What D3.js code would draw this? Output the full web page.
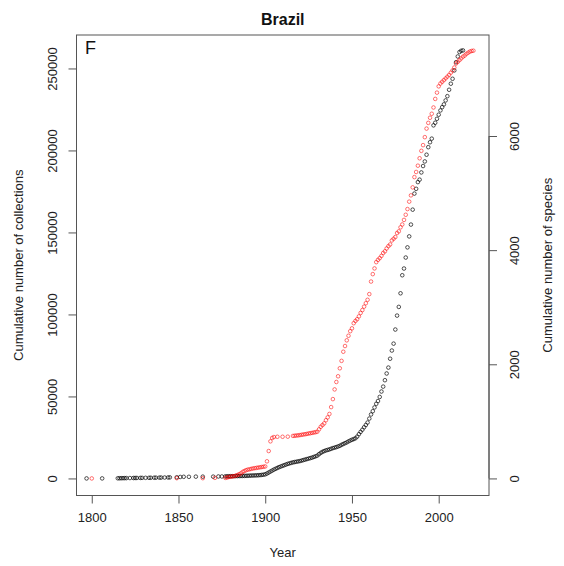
<!DOCTYPE html>
<html>
<head>
<meta charset="utf-8">
<script src="https://cdn.jsdelivr.net/npm/d3@7"></script>
<style>
  html, body { margin: 0; padding: 0; background: #fff; }
  svg { display: block; font-family: "Liberation Sans", Arial, sans-serif; }
</style>
</head>
<body>
<svg id="chart" width="564" height="566"></svg>
<script>
// Cumulative number of collections (left axis), by year
const collectionYears = [
  1797, 1806,
  1815, 1816, 1817, 1818, 1819, 1820, 1822, 1824, 1825, 1826, 1828, 1829, 1831, 1833,
  1834, 1836, 1837, 1839, 1840, 1842, 1844, 1845, 1849, 1851, 1853, 1856, 1860, 1864,
  1870, 1873, 1875, 1877, 1878, 1879, 1880, 1881, 1882, 1883, 1884, 1885, 1886, 1887,
  1888, 1889, 1890, 1891, 1892, 1893, 1894, 1895, 1896, 1897, 1898, 1899,
  1900, 1901, 1902, 1903, 1904, 1905, 1906, 1907, 1908, 1909, 1910, 1911, 1912, 1913,
  1914, 1915, 1916, 1917, 1918, 1919, 1920, 1921, 1922, 1923, 1924, 1925, 1926, 1927,
  1928, 1929, 1930, 1931, 1932, 1933, 1934, 1935, 1936, 1937, 1938, 1939, 1940, 1941,
  1942, 1943, 1944, 1945, 1946, 1947, 1948, 1949, 1950, 1951, 1952, 1953, 1954, 1955,
  1956, 1957, 1958, 1959, 1960, 1961, 1962, 1963, 1964, 1965, 1966, 1967, 1968, 1969,
  1970, 1971, 1972, 1973, 1974, 1975, 1976, 1977, 1978, 1979, 1980, 1981, 1982, 1983,
  1984, 1985, 1986, 1987, 1988, 1989, 1990, 1991, 1992, 1993, 1994, 1995, 1996, 1997,
  1998, 1999, 2000, 2001, 2002, 2003, 2004, 2005, 2006, 2007, 2008, 2009, 2010, 2011,
  2012, 2013, 2014
];
const collectionCounts = [
  10, 20,
  100, 120, 150, 170, 190, 210, 240, 260, 280, 300, 330, 350, 380, 400,
  420, 450, 470, 500, 530, 560, 600, 650, 700, 900, 1000, 1000, 1100, 1100,
  1100, 1200, 1200, 1250, 1300, 1320, 1350, 1380, 1400, 1420, 1450, 1480, 1500, 1530,
  1560, 1600, 1650, 1700, 1750, 1800, 1850, 1900, 1950, 2050, 2150, 2300,
  2500, 3000, 3600, 4200, 4800, 5400, 5900, 6400, 6900, 7300, 7700, 8100, 8500, 8900,
  9200, 9500, 9800, 10000, 10200, 10400, 10600, 10900, 11200, 11500, 11800, 12100, 12400, 12700,
  13100, 13500, 13900, 14800, 15600, 16200, 16700, 17100, 17400, 17700, 18100, 18500, 18800, 19100,
  19500, 19900, 20500, 21000, 21500, 22000, 22600, 23100, 23600, 24000, 24500, 25500, 27000, 28400,
  29700, 31200, 32600, 34100, 36500, 39000, 41000, 43300, 45500, 47200, 49700, 53000, 56000, 59900,
  64000, 67600, 73000, 78000, 82200, 90800, 99300, 104600, 112900, 123900, 128000, 134700, 140900, 147600,
  154800, 163900, 173700, 176600, 180700, 182200, 186600, 190500, 193300, 197400, 202000, 205000, 207200, 215300,
  216900, 219300, 221800, 224400, 226400, 228100, 230500, 233100, 237000, 240700, 243700, 248800, 253800, 257300,
  260000, 260800, 261000
];

// Cumulative number of species (right axis), by year
const speciesYears = [
  1800, 1849, 1864, 1871,
  1877, 1878, 1879, 1880, 1881, 1882, 1883, 1884, 1885, 1886, 1887, 1888, 1889, 1890,
  1891, 1892, 1893, 1894, 1895, 1896, 1897, 1898, 1899, 1900, 1901, 1902, 1903, 1904,
  1905, 1907, 1910, 1913, 1916, 1917, 1918, 1919, 1920, 1921, 1922, 1923, 1924, 1925,
  1926, 1927, 1928, 1929, 1930, 1931, 1932, 1933, 1934, 1935, 1936, 1937, 1938, 1939,
  1940, 1941, 1942, 1943, 1944, 1945, 1946, 1947, 1948, 1949, 1950, 1951, 1952, 1953,
  1954, 1955, 1956, 1957, 1958, 1959, 1960, 1961, 1962, 1963, 1964, 1965, 1966, 1967,
  1968, 1969, 1970, 1971, 1972, 1973, 1974, 1975, 1976, 1977, 1978, 1979, 1980, 1981,
  1982, 1983, 1984, 1985, 1986, 1987, 1988, 1989, 1990, 1991, 1992, 1993, 1994, 1995,
  1996, 1997, 1998, 1999, 2000, 2001, 2002, 2003, 2004, 2005, 2006, 2007, 2008, 2009,
  2010, 2011, 2012, 2013, 2014, 2015, 2016, 2017, 2018, 2019, 2020
];
const speciesCounts = [
  0, 5, 5, 10,
  10, 15, 25, 30, 35, 40, 50, 60, 75, 90, 115, 130, 145, 155,
  160, 168, 175, 180, 185, 190, 195, 200, 205, 210, 300, 480, 650, 710,
  725, 730, 730, 732, 745, 748, 752, 755, 760, 765, 770, 775, 780, 788,
  792, 798, 805, 810, 818, 860, 905, 935, 965, 1020, 1070, 1130, 1250, 1390,
  1560, 1690, 1790, 1930, 2060, 2220, 2320, 2420, 2500, 2580, 2630, 2720, 2760, 2790,
  2840, 2900, 2950, 3010, 3070, 3130, 3230, 3450, 3580, 3680, 3790, 3830, 3860, 3900,
  3950, 3980, 4030, 4070, 4100, 4170, 4200, 4230, 4300, 4330, 4400, 4450, 4530, 4620,
  4720, 4850, 4960, 5100, 5280, 5370, 5480, 5610, 5740, 5840, 5980, 6130, 6230, 6320,
  6390, 6500, 6650, 6760, 6870, 6920, 6950, 6980, 7010, 7040, 7070, 7110, 7150, 7200,
  7270, 7300, 7330, 7360, 7390, 7410, 7440, 7460, 7480, 7490, 7495
];

const yearTicks = [1800, 1850, 1900, 1950, 2000];
const collectionTicks = [0, 50000, 100000, 150000, 200000, 250000];
const speciesTicks = [0, 2000, 4000, 6000];

const title = "Brazil";
const panelLetter = "F";
const xTitle = "Year";
const yLeftTitle = "Cumulative number of collections";
const yRightTitle = "Cumulative number of species";

// Plot region
const plot = { left: 76.5, right: 489, top: 35, bottom: 495.5 };

const svg = d3.select("#chart");

const x = d3.scaleLinear().domain([1791.2, 2029.0]).range([plot.left, plot.right]);
const yL = d3.scaleLinear().domain([-10400, 270400]).range([plot.bottom, plot.top]);
const yR = d3.scaleLinear().domain([-299, 7770]).range([plot.bottom, plot.top]);

const axisColor = "#555";
const textColor = "#222";
const tickLen = 8;
const font = "'Liberation Sans', Arial, sans-serif";

// Points: collections (black) then species (red), open circles
const collections = collectionYears.map((yr, i) => ({ yr, v: collectionCounts[i] }));
const species = speciesYears.map((yr, i) => ({ yr, v: speciesCounts[i] }));

svg.append("g").selectAll("circle").data(collections).join("circle")
  .attr("cx", d => x(d.yr))
  .attr("cy", d => yL(d.v))
  .attr("r", 1.8)
  .attr("fill", "none")
  .attr("stroke", "rgba(0,0,0,0.68)")
  .attr("stroke-width", 1);

svg.append("g").selectAll("circle").data(species).join("circle")
  .attr("cx", d => x(d.yr))
  .attr("cy", d => yR(d.v))
  .attr("r", 1.8)
  .attr("fill", "none")
  .attr("stroke", "rgba(255,0,0,0.55)")
  .attr("stroke-width", 1);

// Frame
svg.append("rect")
  .attr("x", plot.left).attr("y", plot.top)
  .attr("width", plot.right - plot.left).attr("height", plot.bottom - plot.top)
  .attr("fill", "none").attr("stroke", axisColor).attr("stroke-width", 1);

// Bottom axis
const xAxis = svg.append("g").attr("transform", `translate(0,${plot.bottom})`)
  .call(d3.axisBottom(x).tickValues(yearTicks).tickFormat(d3.format("d")).tickSize(tickLen).tickPadding(9));
xAxis.select(".domain").attr("d", `M${x(yearTicks[0])},0H${x(yearTicks[yearTicks.length - 1])}`).attr("stroke", axisColor);
xAxis.selectAll(".tick line").attr("stroke", axisColor);
xAxis.selectAll(".tick text").attr("fill", textColor).style("font-size", "13px").style("font-family", font);

// Left axis, labels parallel to the axis
const yAxisL = svg.append("g").attr("transform", `translate(${plot.left},0)`)
  .call(d3.axisLeft(yL).tickValues(collectionTicks).tickFormat(d3.format("d")).tickSize(tickLen));
yAxisL.select(".domain").attr("d", `M0,${yL(collectionTicks[0])}V${yL(collectionTicks[collectionTicks.length - 1])}`).attr("stroke", axisColor);
yAxisL.selectAll(".tick line").attr("stroke", axisColor);
yAxisL.selectAll(".tick text")
  .attr("x", null).attr("dy", null)
  .attr("text-anchor", "middle")
  .attr("dominant-baseline", "central")
  .attr("transform", "translate(-24,0) rotate(-90)")
  .attr("fill", textColor).style("font-size", "13px").style("font-family", font);

// Right axis, labels parallel to the axis
const yAxisR = svg.append("g").attr("transform", `translate(${plot.right},0)`)
  .call(d3.axisRight(yR).tickValues(speciesTicks).tickFormat(d3.format("d")).tickSize(tickLen));
yAxisR.select(".domain").attr("d", `M0,${yR(speciesTicks[0])}V${yR(speciesTicks[speciesTicks.length - 1])}`).attr("stroke", axisColor);
yAxisR.selectAll(".tick line").attr("stroke", axisColor);
yAxisR.selectAll(".tick text")
  .attr("x", null).attr("dy", null)
  .attr("text-anchor", "middle")
  .attr("dominant-baseline", "central")
  .attr("transform", "translate(25,0) rotate(-90)")
  .attr("fill", textColor).style("font-size", "13px").style("font-family", font);

// Titles
const cx = (plot.left + plot.right) / 2;
const cy = (plot.top + plot.bottom) / 2;

svg.append("text").attr("x", cx).attr("y", 25)
  .attr("text-anchor", "middle").attr("font-weight", "bold")
  .attr("font-size", 16).attr("fill", "#111").text(title);

svg.append("text").attr("x", 85).attr("y", 54)
  .attr("font-size", 18).attr("fill", "#111").text(panelLetter);

svg.append("text").attr("x", cx).attr("y", 557)
  .attr("text-anchor", "middle").attr("font-size", 13).attr("fill", textColor).text(xTitle);

svg.append("text").attr("transform", `translate(18,${cy}) rotate(-90)`)
  .attr("text-anchor", "middle").attr("dominant-baseline", "central")
  .attr("font-size", 13).attr("fill", textColor).text(yLeftTitle);

svg.append("text").attr("transform", `translate(547,${cy}) rotate(-90)`)
  .attr("text-anchor", "middle").attr("dominant-baseline", "central")
  .attr("font-size", 13).attr("fill", textColor).text(yRightTitle);
</script>
</body>
</html>
